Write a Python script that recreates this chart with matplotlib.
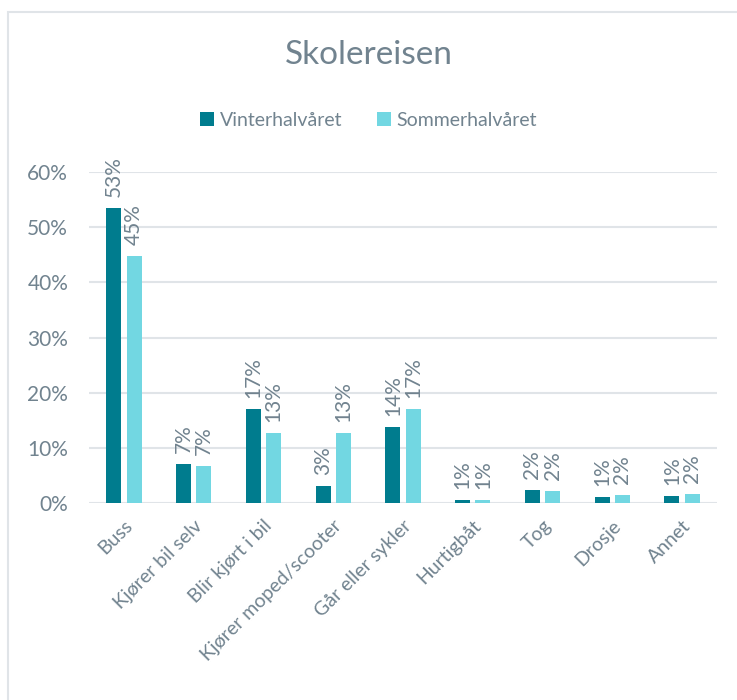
import numpy as np
from matplotlib import pyplot as plt
from matplotlib.patches import Rectangle

categories = ["Buss", "Kjører bil selv", "Blir kjørt i bil", "Kjører moped/scooter",
              "Går eller sykler", "Hurtigbåt", "Tog", "Drosje", "Annet"]
vinter = [53.4, 7.0, 17.0, 3.1, 13.8, 0.6, 2.3, 1.1, 1.3]
sommer = [44.7, 6.7, 12.7, 12.7, 17.0, 0.6, 2.2, 1.5, 1.6]
series_names = ["Vinterhalvåret", "Sommerhalvåret"]

dark = "#007C8E"
light = "#72D7E2"
text_col = "#71838F"
grid_col = "#E0E4E8"

plt.rcParams['font.family'] = ['Lato', 'DejaVu Sans']

fig = plt.figure(figsize=(7.37, 7.0), dpi=100)
fig.patches.append(Rectangle((8 / 737, -0.1), 1.2, 1.1 - 12 / 700,
                             transform=fig.transFigure, fill=False,
                             edgecolor=grid_col, linewidth=1.5))

ax = fig.add_axes([89 / 737, 1 - 503 / 700, (717 - 89) / 737, (503 - 172) / 700])

x = np.arange(len(categories))
w = 0.215
off = 0.145
b1 = ax.bar(x - off, vinter, w, color=dark, label=series_names[0], zorder=3)
b2 = ax.bar(x + off, sommer, w, color=light, label=series_names[1], zorder=3)

for bars, vals in ((b1, vinter), (b2, sommer)):
    for rect, v in zip(bars, vals):
        ax.annotate(f"{round(v):.0f}%", (rect.get_x() + rect.get_width() / 2, rect.get_height()),
                    xytext=(0, 8), textcoords="offset points", rotation=90,
                    ha="center", va="bottom", fontsize=15, color=text_col)

ax.set_ylim(0, 60)
ax.set_xlim(-0.5, len(categories) - 0.5)
ax.set_yticks(range(0, 61, 10))
ax.set_yticklabels([f"{t}%" for t in range(0, 61, 10)])
ax.set_xticks(x)
ax.set_xticklabels(categories, rotation=45, ha="right", rotation_mode="anchor")
ax.tick_params(length=0, labelsize=14, colors=text_col)
ax.tick_params(axis="y", pad=15, labelsize=15)
ax.tick_params(axis="x", pad=10)
ax.grid(axis="y", color=grid_col, linewidth=1.5, zorder=0)
for s in ax.spines.values():
    s.set_visible(False)

fig.text(0.5, 1 - 55 / 700, "Skolereisen", ha="center", va="center",
         fontsize=24, color=text_col)
fig.legend(loc="center", bbox_to_anchor=(0.5, 1 - 120 / 700), ncol=2, frameon=False,
           handlelength=0.7, handleheight=0.7, handletextpad=0.3,
           columnspacing=1.8, labelcolor=text_col, prop={'size': 14})

fig.savefig("out.png", dpi=100)
